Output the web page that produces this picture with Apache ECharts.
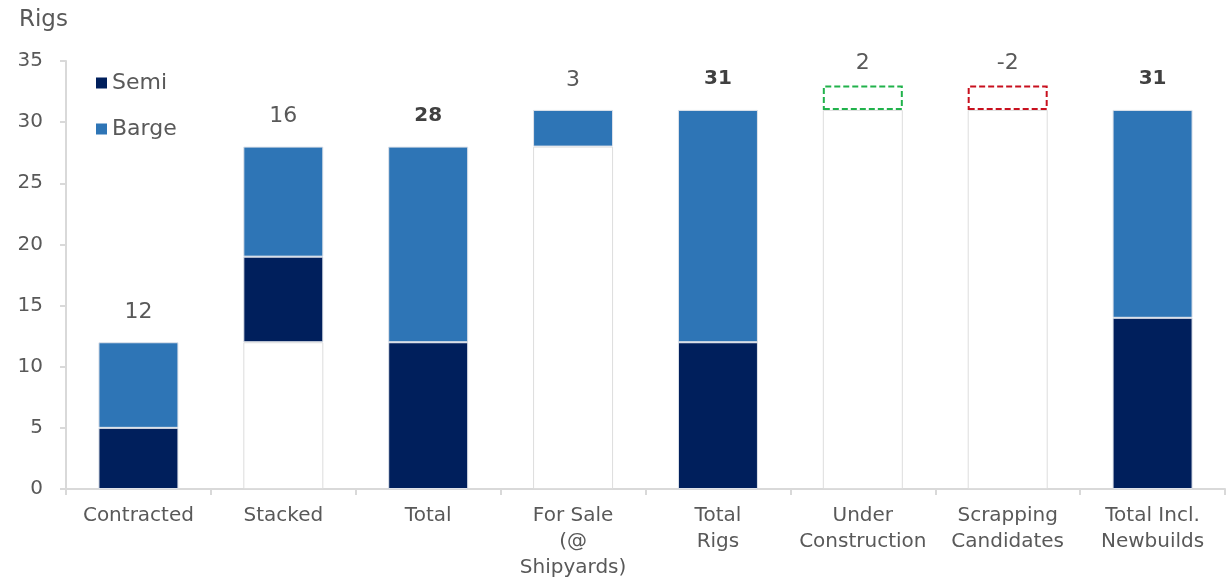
<!DOCTYPE html>
<html>
<head>
<meta charset="utf-8">
<script src="https://cdn.jsdelivr.net/npm/echarts@6/dist/echarts.min.js"></script>
<style>
  html, body { margin: 0; padding: 0; background: #fff; }
  #chart { width: 1228px; height: 577px; }
</style>
</head>
<body>
<div id="chart"></div>
<script>
// Rig count bridge: contracted + stacked + for sale, then newbuild/scrapping changes
const categories = ['Contracted', 'Stacked', 'Total', 'For Sale\n(@\nShipyards)', 'Total\nRigs',
                    'Under\nConstruction', 'Scrapping\nCandidates', 'Total Incl.\nNewbuilds'];
const offset  = [0, 12, 0, 28, 0, 31, 31, 0];     // floating start of each step
const semi    = [5, 7, 12, 0, 12, 0, 0, 14];
const barge   = [7, 9, 16, 3, 19, 0, 0, 17];
const change  = [0, 0, 0, 0, 0, 2, -2, 0];       // pending additions / removals
const isTotal = [false, false, true, false, true, false, false, true];
const yTicks  = { min: 0, max: 35, interval: 5 };

const GREY_TEXT = '#595959';
const AXIS_GREY = '#d9d9d9';
const FONT = 'DejaVu Sans';

function segment(values, style) {
  return values.map(v => ({
    value: v,
    itemStyle: v === 0 ? { borderWidth: 0 } : style
  }));
}

const labels = categories.map((_, i) => change[i] !== 0 ? change[i] : semi[i] + barge[i]);

const chart = echarts.init(document.getElementById('chart'), null, { renderer: 'canvas' });
chart.setOption({
  animation: false,
  backgroundColor: '#ffffff',
  textStyle: { fontFamily: FONT },
  title: {
    text: 'Rigs', left: 14, top: 4,
    textStyle: { fontFamily: FONT, fontSize: 23, fontWeight: 'normal', color: GREY_TEXT }
  },
  legend: {
    data: ['Semi', 'Barge'],
    orient: 'vertical', left: 91, top: 67,
    icon: 'rect', itemWidth: 11, itemHeight: 11, itemGap: 24,
    textStyle: { fontFamily: FONT, fontSize: 22, color: GREY_TEXT }
  },
  grid: { left: 66, right: 3, top: 61, bottom: 88, containLabel: false, outerBoundsMode: 'none' },
  xAxis: {
    type: 'category',
    data: categories,
    axisLine: { lineStyle: { color: AXIS_GREY, width: 2 } },
    axisTick: { show: true, alignWithLabel: false, length: 6, lineStyle: { color: AXIS_GREY, width: 2 } },
    axisLabel: { color: GREY_TEXT, fontFamily: FONT, fontSize: 20, lineHeight: 26, margin: 14, interval: 0 }
  },
  yAxis: {
    type: 'value',
    min: yTicks.min, max: yTicks.max, interval: yTicks.interval,
    splitLine: { show: false },
    axisLine: { show: true, lineStyle: { color: AXIS_GREY, width: 2 } },
    axisTick: { show: true, length: 6, lineStyle: { color: AXIS_GREY, width: 2 } },
    axisLabel: { color: GREY_TEXT, fontFamily: FONT, fontSize: 20, margin: 23 }
  },
  series: [
    {
      name: 'base', type: 'bar', stack: 'rigs', barWidth: 80, silent: true,
      data: segment(offset, { color: 'rgba(0,0,0,0)', borderColor: '#dddddd', borderWidth: 1 })
    },
    {
      name: 'Semi', type: 'bar', stack: 'rigs',
      itemStyle: { color: '#001f5c' },
      data: segment(semi, { color: '#001f5c', borderColor: '#dfe3ea', borderWidth: 1 })
    },
    {
      name: 'Barge', type: 'bar', stack: 'rigs',
      itemStyle: { color: '#2e75b6' },
      data: segment(barge, { color: '#2e75b6', borderColor: '#dfe3ea', borderWidth: 1 })
    },
    {
      name: 'change', type: 'bar', stack: 'rigs', silent: true,
      data: change.map(v => ({
        value: Math.abs(v),
        itemStyle: v === 0 ? { borderWidth: 0, color: 'rgba(0,0,0,0)' } : {
          color: 'rgba(0,0,0,0)',
          borderColor: v > 0 ? '#21b24b' : '#c8101e',
          borderWidth: 2,
          borderType: [6, 3]
        }
      }))
    },
    {
      name: 'labels', type: 'bar', stack: 'rigs', silent: true,
      itemStyle: { color: 'rgba(0,0,0,0)', borderWidth: 0 },
      data: labels.map((v, i) => ({
        value: 0,
        label: {
          show: true, position: 'top',
          distance: change[i] !== 0 ? 11 : (isTotal[i] ? 21 : 19),
          formatter: String(v),
          fontFamily: FONT,
          fontSize: isTotal[i] ? 20 : 22,
          color: isTotal[i] ? '#404040' : GREY_TEXT,
          fontWeight: isTotal[i] ? 'bold' : 'normal'
        }
      }))
    }
  ]
});
</script>
</body>
</html>
